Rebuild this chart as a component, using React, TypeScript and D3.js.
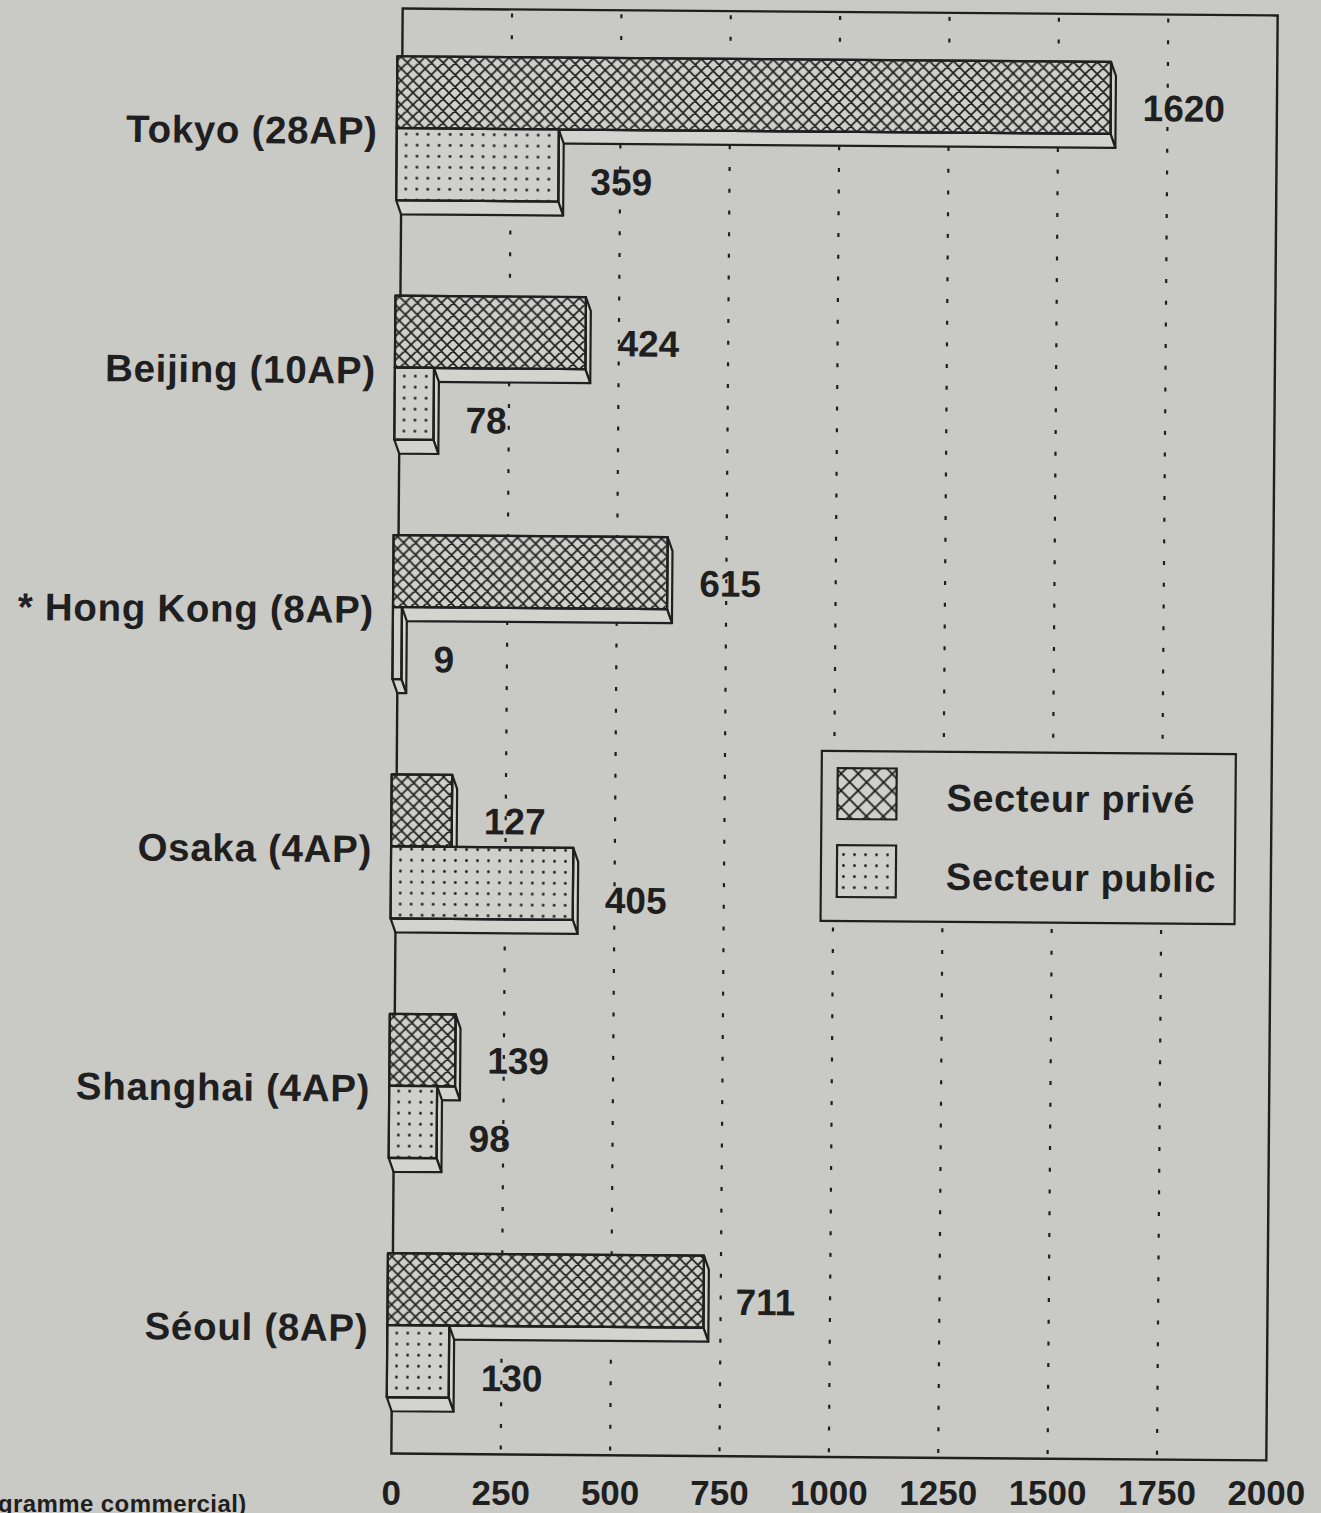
import React from "react";
import * as d3 from "d3";

const categories = [
  "Tokyo (28AP)",
  "Beijing (10AP)",
  "* Hong Kong (8AP)",
  "Osaka (4AP)",
  "Shanghai (4AP)",
  "Séoul (8AP)",
];
const privateValues = [1620, 424, 615, 127, 139, 711];
const publicValues = [359, 78, 9, 405, 98, 130];
const xTicks = [0, 250, 500, 750, 1000, 1250, 1500, 1750, 2000];
const gridTicks = [250, 500, 750, 1000, 1250, 1500, 1750];
const seriesNames = ["Secteur privé", "Secteur public"];
const footnote = "gramme commercial)";

const W = 1321;
const H = 1513;
const PAPER = "#c9c9c6";
const INK = "#1f1f1f";
const FONT = "'Liberation Sans', Arial, Helvetica, sans-serif";

const frame = { left: 397, right: 1272, top: 12, bottom: 1457 };
const BAR_H = 72;
const DX = 5;
const DY = 14;
const ROT = 0.45;
const RCX = 835;
const RCY = 735;

function rotX(x: number, y: number) {
  const a = (ROT * Math.PI) / 180;
  return RCX + (x - RCX) * Math.cos(a) - (y - RCY) * Math.sin(a);
}

function Bar3D({ x0, x1, y, h, fill }: { x0: number; x1: number; y: number; h: number; fill: string }) {
  const right = [
    [x1, y],
    [x1 + DX, y + DY],
    [x1 + DX, y + h + DY],
    [x1, y + h],
  ];
  const bottom = [
    [x0, y + h],
    [x1, y + h],
    [x1 + DX, y + h + DY],
    [x0 + DX, y + h + DY],
  ];
  const pts = (p: number[][]) => p.map((q) => q.join(",")).join(" ");
  return (
    <g stroke={INK} strokeWidth={2.2} strokeLinejoin="round">
      <polygon points={pts(right)} fill="#d3d3d0" />
      <polygon points={pts(bottom)} fill="#d3d3d0" />
      <rect x={x0} y={y} width={Math.max(0, x1 - x0)} height={h} fill="#cfcfcc" />
      <rect x={x0} y={y} width={Math.max(0, x1 - x0)} height={h} fill={fill} />
    </g>
  );
}

export default function App() {
  const xs = d3.scaleLinear().domain([0, 2000]).range([frame.left, frame.right]);
  const ys = d3
    .scaleBand<string>()
    .domain(categories)
    .range([12, 12 + 6 * 239.4])
    .paddingInner(0)
    .paddingOuter(0);
  const mid = (c: string) => (ys(c) as number) + ys.step() / 2;
  const faceLeft = xs(0) - 5;

  return (
    <svg
      width={W}
      height={H}
      style={{ position: "absolute", left: 0, top: 0, display: "block" }}
      fontFamily={FONT}
    >
      <defs>
        <pattern id="cross" patternUnits="userSpaceOnUse" width={12} height={12}>
          <path d="M0,0 L12,12 M12,0 L0,12 M-3,9 L3,15 M9,-3 L15,3 M-3,3 L3,-3 M9,15 L15,9" stroke={INK} strokeWidth={1.7} />
        </pattern>
        <pattern id="crossL" patternUnits="userSpaceOnUse" width={17} height={17}>
          <path d="M0,0 L17,17 M17,0 L0,17 M-3,14 L3,20 M14,-3 L20,3 M-3,3 L3,-3 M14,20 L20,14" stroke={INK} strokeWidth={1.8} />
        </pattern>
        <pattern id="dots" patternUnits="userSpaceOnUse" width={11} height={11}>
          <circle cx={5.5} cy={5.5} r={1.4} fill={INK} />
        </pattern>
        <pattern id="dotsL" patternUnits="userSpaceOnUse" width={11} height={11} x={3} y={2}>
          <circle cx={5.5} cy={5.5} r={1.4} fill={INK} />
        </pattern>
      </defs>
      <rect x={0} y={0} width={W} height={H} fill={PAPER} />

      <g transform={`rotate(${ROT} ${RCX} ${RCY})`}>
        {/* grid */}
        {gridTicks.map((t) => (
          <line
            key={t}
            x1={xs(t)}
            x2={xs(t)}
            y1={frame.top + 4}
            y2={frame.bottom}
            stroke={INK}
            strokeWidth={2.2}
            strokeDasharray="4 17.7"
          />
        ))}
        {/* frame */}
        <rect
          x={frame.left}
          y={frame.top}
          width={frame.right - frame.left}
          height={frame.bottom - frame.top}
          fill="none"
          stroke={INK}
          strokeWidth={2.4}
        />

        {/* bars */}
        {categories.map((c, i) => {
          const m = mid(c);
          return (
            <g key={c}>
              <Bar3D x0={faceLeft} x1={xs(privateValues[i])} y={m - BAR_H} h={BAR_H} fill="url(#cross)" />
              <Bar3D x0={faceLeft} x1={xs(publicValues[i])} y={m} h={BAR_H} fill="url(#dots)" />
            </g>
          );
        })}

        {/* category labels */}
        {categories.map((c) => (
          <text
            key={c}
            x={373}
            y={mid(c) + 16}
            textAnchor="end"
            fontSize={38.5}
            fontWeight="bold"
            letterSpacing={0.7}
            fill={INK}
          >
            {c}
          </text>
        ))}

        {/* value labels */}
        {categories.map((c, i) => {
          const m = mid(c);
          return (
            <g key={c} fontSize={37} fontWeight="bold" fill={INK}>
              <text x={xs(privateValues[i]) + 32} y={m - 26 + 13}>
                {privateValues[i]}
              </text>
              <text x={xs(publicValues[i]) + 32} y={m + 52 + 13}>
                {publicValues[i]}
              </text>
            </g>
          );
        })}

        {/* legend */}
        <g>
          <rect x={822} y={751} width={414} height={170} fill={PAPER} stroke={INK} strokeWidth={2.2} />
          <rect x={838} y={768} width={59} height={51} fill="#cfcfcc" stroke="none" />
          <rect x={838} y={768} width={59} height={51} fill="url(#crossL)" stroke={INK} strokeWidth={2.2} />
          <rect x={838} y={845} width={59} height={52} fill="#cfcfcc" stroke="none" />
          <rect x={838} y={845} width={59} height={52} fill="url(#dotsL)" stroke={INK} strokeWidth={2.2} />
          <text x={947} y={810} fontSize={38} fontWeight="bold" letterSpacing={0.6} fill={INK}>
            {seriesNames[0]}
          </text>
          <text x={947} y={889} fontSize={38} fontWeight="bold" letterSpacing={0.6} fill={INK}>
            {seriesNames[1]}
          </text>
        </g>
      </g>

      {/* x tick labels (placed under the rotated frame, kept level like the scan) */}
      {xTicks.map((t) => (
        <text
          key={t}
          x={rotX(xs(t), frame.bottom)}
          y={1505}
          textAnchor="middle"
          fontSize={35}
          fontWeight="bold"
          fill={INK}
        >
          {t}
        </text>
      ))}

      <text x={-2} y={1512} fontSize={24} fontWeight="bold" letterSpacing={0.4} fill={INK}>
        {footnote}
      </text>
    </svg>
  );
}
